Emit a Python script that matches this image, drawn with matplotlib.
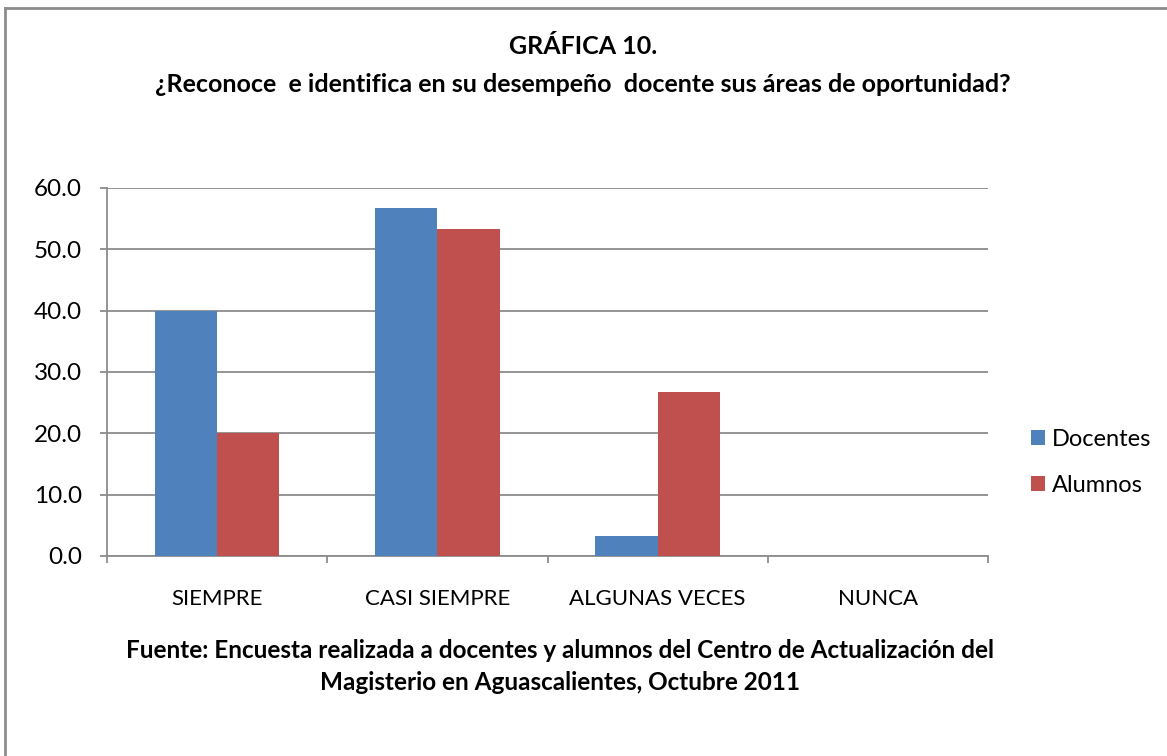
import matplotlib.pyplot as plt
import numpy as np
from matplotlib.lines import Line2D

categories = ['SIEMPRE', 'CASI SIEMPRE', 'ALGUNAS VECES', 'NUNCA']
docentes = [40.0, 56.7, 3.3, 0.0]
alumnos = [20.0, 53.3, 26.7, 0.0]
series_names = ['Docentes', 'Alumnos']
yticks = [0, 10, 20, 30, 40, 50, 60]

plt.rcParams['font.family'] = ['Lato', 'DejaVu Sans']

W, H = 1167, 756
fig = plt.figure(figsize=(W / 100, H / 100), dpi=100)
ax = fig.add_axes([107 / W, 1 - 556 / H, (988 - 107) / W, (556 - 188) / H])

x = np.arange(len(categories)) + 0.5
bw = 0.283
ax.bar(x - bw / 2, docentes, bw, color='#4F81BD', label=series_names[0], zorder=3)
ax.bar(x + bw / 2, alumnos, bw, color='#C0504D', label=series_names[1], zorder=3)

ax.set_xlim(0, 4)
ax.set_ylim(0, 60)
ax.set_yticks(yticks)
ax.set_yticklabels([f'{v:.1f}' for v in yticks], fontsize=17.5)
ax.yaxis.grid(True, color='#8c8c8c', linewidth=1.3, zorder=0)
ax.set_axisbelow(True)

ax.set_xticks(np.arange(len(categories) + 1))
ax.set_xticklabels([])
ax.set_xticks(x, minor=True)
ax.set_xticklabels(categories, minor=True, fontsize=16)
ax.tick_params(axis='x', which='minor', length=0, pad=24)
ax.tick_params(axis='x', which='major', length=5, width=1.3, color='#8c8c8c', direction='out')
ax.tick_params(axis='y', length=5, width=1.3, color='#8c8c8c', direction='out', pad=13)

for s in ['top', 'right']:
    ax.spines[s].set_visible(False)
for s in ['left', 'bottom']:
    ax.spines[s].set_color('#8c8c8c')
    ax.spines[s].set_linewidth(1.3)

leg = ax.legend(loc='center left', bbox_to_anchor=(1.035, 0.255), frameon=False,
                fontsize=17, handlelength=0.6, handleheight=0.6,
                handletextpad=0.3, labelspacing=1.05, borderpad=0)

fig.text(583 / W, 1 - 46 / H, 'GRÁFICA 10.', ha='center', va='center',
         fontsize=18, fontweight='bold')
fig.text(583 / W, 1 - 84 / H,
         '¿Reconoce  e identifica en su desempeño  docente sus áreas de oportunidad?',
         ha='center', va='center', fontsize=18, fontweight='bold')

fig.text(560 / W, 1 - 650 / H,
         'Fuente: Encuesta realizada a docentes y alumnos del Centro de Actualización del',
         ha='center', va='center', fontsize=17.5, fontweight='bold')
fig.text(560 / W, 1 - 683 / H,
         'Magisterio en Aguascalientes, Octubre 2011',
         ha='center', va='center', fontsize=17.5, fontweight='bold')

# outer chart border (left and top only visible)
fig.add_artist(Line2D([5 / W, 5 / W], [0, 1 - 8 / H], color='#8c8c8c', linewidth=2))
fig.add_artist(Line2D([5 / W, 1], [1 - 8 / H, 1 - 8 / H], color='#8c8c8c', linewidth=2))

fig.savefig('out.png', dpi=100)
